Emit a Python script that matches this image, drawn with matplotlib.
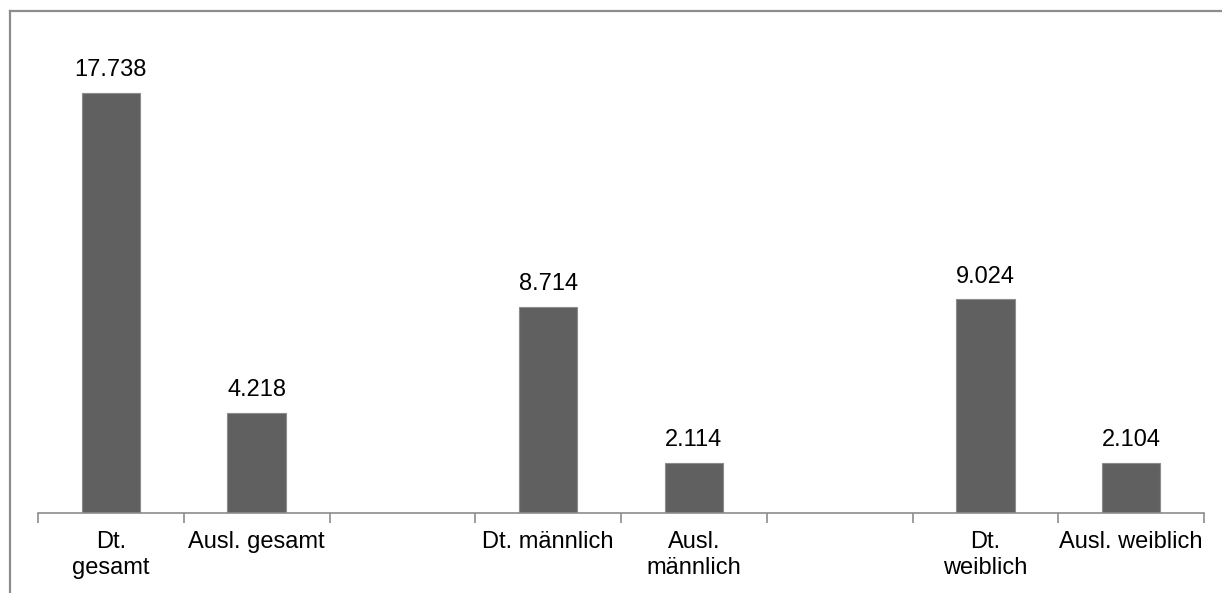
import matplotlib
matplotlib.use("Agg")
import matplotlib.pyplot as plt
from matplotlib.lines import Line2D

plt.rcParams['font.family'] = ['Liberation Sans', 'DejaVu Sans']

# Schulabgänger nach Herkunft und Geschlecht (leere Kategorien als Abstand)
categories = ["Dt.\ngesamt", "Ausl. gesamt", "", "Dt. männlich",
              "Ausl.\nmännlich", "", "Dt.\nweiblich", "Ausl. weiblich"]
values = [17738, 4218, None, 8714, 2114, None, 9024, 2104]
value_labels = ["17.738", "4.218", "", "8.714", "2.114", "", "9.024", "2.104"]

W, H = 1222, 593
fig = plt.figure(figsize=(W / 100, H / 100), dpi=100)

ax_left, ax_right = 38 / W, 1204 / W
ax_bottom = (H - 513) / H
ax_top = (H - 39.4) / H
ax = fig.add_axes([ax_left, ax_bottom, ax_right - ax_left, ax_top - ax_bottom])

xs = [i for i, v in enumerate(values) if v is not None]
hs = [v for v in values if v is not None]
bars = ax.bar(xs, hs, width=0.4, color="#606060", edgecolor="#8c8c8c",
              linewidth=0.8, zorder=2)

for x, v in zip(xs, hs):
    ax.annotate(value_labels[x], (x, v), xytext=(0, 8.5), textcoords="offset points",
                ha="center", va="bottom", fontsize=17, color="#000000")

ax.set_xlim(-0.5, len(categories) - 0.5)
ax.set_ylim(0, 20000)

ax.set_xticks(range(len(categories)))
ax.set_xticklabels(categories, fontsize=17, linespacing=1.25)
ax.set_xticks([i - 0.5 for i in range(len(categories) + 1)], minor=True)
ax.tick_params(axis="x", which="major", length=0, pad=13)
ax.tick_params(axis="x", which="minor", length=7, width=1.2, color="#8c8c8c", direction="out")
ax.set_yticks([])

for side in ("top", "right", "left"):
    ax.spines[side].set_visible(False)
ax.spines["bottom"].set_color("#8c8c8c")
ax.spines["bottom"].set_linewidth(1.2)

# Rahmen des Diagrammbereichs (rechts und unten abgeschnitten)
fx, fy = 9.5 / W, (H - 11) / H
fig.add_artist(Line2D([fx, fx], [0, fy], transform=fig.transFigure, color="#8c8c8c", lw=1.6))
fig.add_artist(Line2D([fx, 1], [fy, fy], transform=fig.transFigure, color="#8c8c8c", lw=1.6))

fig.savefig("out.png", dpi=100, facecolor="white")
